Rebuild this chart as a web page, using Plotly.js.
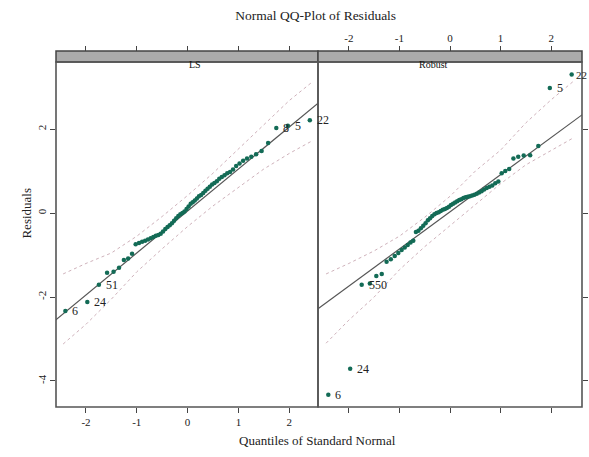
<!DOCTYPE html>
<html>
<head>
<meta charset="utf-8">
<script src="https://cdn.plot.ly/plotly-3.0.1.min.js"></script>
<style>html,body{margin:0;padding:0;background:#fff}#chart{width:589px;height:457px}</style>
</head>
<body>
<div id="chart"></div>
<script>
// Theoretical normal quantiles (x of every point, both panels)
const quantiles = [-2.406,-1.974,-1.746,-1.585,-1.457,-1.349,-1.254,-1.170,-1.093,-1.022,-0.956,-0.895,-0.836,-0.780,-0.726,-0.674,-0.624,-0.576,-0.529,-0.483,-0.438,-0.394,-0.351,-0.308,-0.266,-0.224,-0.183,-0.142,-0.101,-0.061,-0.020,
  0.020,0.061,0.101,0.142,0.183,0.224,0.266,0.308,0.351,0.394,0.438,0.483,0.529,0.576,0.624,0.674,0.726,0.780,0.836,0.895,0.956,1.022,1.093,1.170,1.254,1.349,1.457,1.585,1.746,1.974,2.406];

// Sorted residuals
const residLS = [-2.33,-2.12,-1.71,-1.42,-1.40,-1.30,-1.12,-1.08,-0.97,-0.74,
  -0.71,-0.68,-0.66,-0.63,-0.60,-0.57,-0.54,-0.52,-0.49,-0.44,
  -0.38,-0.33,-0.29,-0.24,-0.18,-0.12,-0.07,-0.03,0.00,0.04,
  0.10,0.16,0.22,0.26,0.30,0.35,0.40,0.43,0.48,0.53,
  0.58,0.63,0.68,0.72,0.76,0.82,0.86,0.90,0.95,0.98,
  1.04,1.12,1.18,1.25,1.30,1.34,1.40,1.48,1.67,2.03,
  2.08,2.21];
const residRobust = [-4.33,-3.71,-1.71,-1.68,-1.50,-1.45,-1.16,-1.10,-1.02,-0.95,
  -0.88,-0.82,-0.76,-0.70,-0.66,-0.45,-0.42,-0.36,-0.30,-0.24,
  -0.17,-0.12,-0.07,-0.03,0.00,0.02,0.05,0.08,0.10,0.12,
  0.15,0.19,0.22,0.25,0.28,0.31,0.33,0.36,0.38,0.39,
  0.40,0.42,0.44,0.46,0.49,0.52,0.56,0.60,0.63,0.66,
  0.71,0.75,0.95,1.00,1.05,1.30,1.34,1.37,1.38,1.60,
  2.98,3.30];

// Point labels (index into sorted arrays)
const labelIdxLS = [0,1,2,59,60,61];
const labelTextLS = ['6','24','51','8','5','22'];
const labelIdxRobust = [0,1,2,60,61];
const labelTextRobust = ['6','24','550','5','22'];

// Reference lines
const lineQ = [-2.7, 2.7];
const lineLS = [-2.65, 2.75];
const lineRobust = [-2.36, 2.42];

// Simulation envelopes
const envQ = [-2.45,-2,-1.5,-1,-0.5,0,0.5,1,1.5,2,2.45];
const envUpLS = [-1.45,-1.2,-0.95,-0.55,-0.08,0.42,0.95,1.52,2.1,2.68,3.12];
const envLoLS = [-3.12,-2.65,-2.05,-1.4,-0.85,-0.32,0.17,0.62,1.05,1.42,1.72];
const envUpRobust = [-1.45,-1.2,-0.9,-0.55,-0.1,0.4,1.0,1.5,2.15,2.7,3.15];
const envLoRobust = [-3.1,-2.55,-2.0,-1.35,-0.8,-0.3,0.2,0.7,1.15,1.5,1.8];

// Axis ticks
const xTicks = [-2,-1,0,1,2];
const yTicks = [-4,-2,0,2];

const serif = 'Liberation Serif, Times New Roman, serif';
const ptColor = '#136b56';
const envStyle = {color:'#cfb2bb', width:1, dash:'dot'};

function panel(xa, ya, resid, envUp, envLo, line) {
  return [
    {x:envQ, y:envUp, xaxis:xa, yaxis:ya, mode:'lines', line:envStyle, hoverinfo:'skip'},
    {x:envQ, y:envLo, xaxis:xa, yaxis:ya, mode:'lines', line:envStyle, hoverinfo:'skip'},
    {x:lineQ, y:line, xaxis:xa, yaxis:ya, mode:'lines', line:{color:'#555', width:1.2}, hoverinfo:'skip'},
    {x:quantiles, y:resid, xaxis:xa, yaxis:ya, mode:'markers', marker:{color:ptColor, size:4.5}, cliponaxis:false}
  ];
}

const data = [].concat(
  panel('x','y', residLS, envUpLS, envLoLS, lineLS),
  panel('x2','y2', residRobust, envUpRobust, envLoRobust, lineRobust),
  [{x:[0], y:[0], xaxis:'x3', yaxis:'y', mode:'markers', marker:{opacity:0}, hoverinfo:'skip'},
   {x:[0], y:[0], xaxis:'x4', yaxis:'y2', mode:'markers', marker:{opacity:0}, hoverinfo:'skip'}]
);

const annotations = [];
labelIdxLS.forEach((k, j) => annotations.push({x:quantiles[k], y:residLS[k], xref:'x', yref:'y', text:labelTextLS[j], showarrow:false, xanchor:'left', xshift:5, font:{family:serif, size:12, color:'#222'}}));
labelIdxRobust.forEach((k, j) => annotations.push({x:quantiles[k], y:residRobust[k], xref:'x2', yref:'y2', text:labelTextRobust[j], showarrow:false, xanchor:'left', xshift:(j === labelIdxRobust.length-1 ? 2 : 5), font:{family:serif, size:(j === labelIdxRobust.length-1 ? 11 : 12), color:'#222'}}));

const stripBottom = 345/356;
annotations.push(
  {x:0.249, y:(stripBottom+1)/2, xref:'paper', yref:'paper', text:'LS', showarrow:false, font:{family:serif, size:10, color:'#111'}},
  {x:0.749, y:(stripBottom+1)/2, xref:'paper', yref:'paper', text:'Robust', showarrow:false, font:{family:serif, size:10, color:'#111'}},
  {x:0.498, y:-0.093, xref:'paper', yref:'paper', text:'Quantiles of Standard Normal', showarrow:false, yanchor:'middle', font:{family:serif, size:13, color:'#222'}},
  {x:-0.074, y:0.545, xref:'paper', yref:'paper', text:'Residuals', showarrow:false, textangle:-90, font:{family:serif, size:13, color:'#222'}}
);

const split = 262/526;
const axisCommon = {showgrid:false, zeroline:false, showline:false, ticks:'outside', ticklen:5, tickwidth:1, tickcolor:'#444', tickfont:{family:serif, size:11, color:'#222'}, fixedrange:true};
const rangeL = [-2.59, 2.567];
const rangeR = [-2.61, 2.61];
const rangeY = [-4.62, 3.6];

const layout = {
  width:589, height:457,
  margin:{l:56, r:7, t:51, b:50},
  paper_bgcolor:'#fff', plot_bgcolor:'#fff',
  showlegend:false,
  title:{text:'Normal QQ-Plot of Residuals', font:{family:serif, size:13.5, color:'#222'}, x:0.536, xanchor:'center', xref:'container', y:1-15/457, yanchor:'middle', yref:'container'},
  xaxis:Object.assign({}, axisCommon, {domain:[0, split], range:rangeL, anchor:'y', tickvals:xTicks, ticktext:['-2','-1','0','1','2']}),
  xaxis2:Object.assign({}, axisCommon, {domain:[split, 1], range:rangeR, anchor:'y2', tickvals:xTicks, showticklabels:false}),
  xaxis3:Object.assign({}, axisCommon, {overlaying:'x', side:'top', anchor:'free', position:1, range:rangeL, tickvals:xTicks, showticklabels:false}),
  xaxis4:Object.assign({}, axisCommon, {overlaying:'x2', side:'top', anchor:'free', position:1, range:rangeR, tickvals:xTicks, ticktext:['-2','-1','0','1','2']}),
  yaxis:Object.assign({}, axisCommon, {domain:[0, stripBottom], range:rangeY, anchor:'x', tickvals:yTicks, ticktext:['-4','-2','0','2'], tickangle:-90}),
  yaxis2:Object.assign({}, axisCommon, {domain:[0, stripBottom], range:rangeY, anchor:'x2', side:'right', tickvals:yTicks, showticklabels:false}),
  shapes:[
    {type:'rect', xref:'paper', yref:'paper', x0:0, x1:split, y0:stripBottom, y1:1, fillcolor:'#ababab', line:{color:'#444', width:1.5}},
    {type:'rect', xref:'paper', yref:'paper', x0:split, x1:1, y0:stripBottom, y1:1, fillcolor:'#ababab', line:{color:'#444', width:1.5}},
    {type:'rect', xref:'paper', yref:'paper', x0:0, x1:split, y0:0, y1:stripBottom, line:{color:'#555', width:1.6}},
    {type:'rect', xref:'paper', yref:'paper', x0:split, x1:1, y0:0, y1:stripBottom, line:{color:'#555', width:1.6}}
  ],
  annotations:annotations
};

Plotly.newPlot('chart', data, layout, {displayModeBar:false, staticPlot:true});
</script>
</body>
</html>
